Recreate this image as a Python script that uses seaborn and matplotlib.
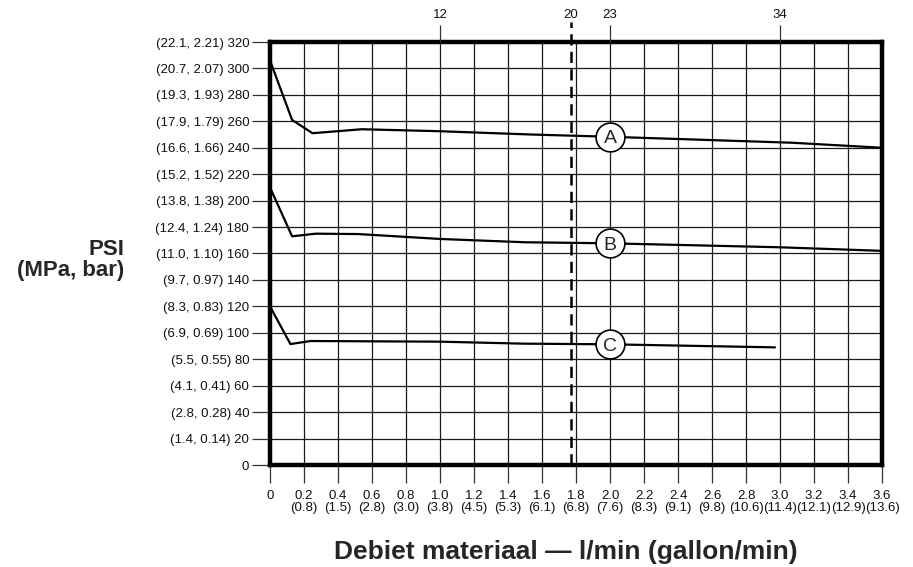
import matplotlib
matplotlib.use("Agg")
import matplotlib.pyplot as plt
import seaborn as sns
import pandas as pd
import numpy as np

sns.set_style("white")
plt.rcParams['font.family'] = ['Liberation Sans', 'DejaVu Sans']

# Flow (l/min) vs pressure (PSI) curves
curve_a_x = [0, 0.13, 0.25, 0.54, 1.0, 1.54, 2.0, 3.07, 3.6]
curve_a_y = [306, 261, 251, 254, 252.5, 250, 248.3, 243.8, 240]
curve_b_x = [0, 0.13, 0.27, 0.52, 1.0, 1.5, 2.0, 3.0, 3.6]
curve_b_y = [210, 173, 175, 174.7, 171, 168.5, 167.7, 164.7, 162]
curve_c_x = [0, 0.12, 0.24, 1.0, 1.49, 2.0, 2.97]
curve_c_y = [120, 91.5, 93.8, 93.3, 91.8, 91.3, 89]
curve_names = ["A", "B", "C"]
label_x = 2.0

# Axis ticks
x_ticks = [0, 0.2, 0.4, 0.6, 0.8, 1.0, 1.2, 1.4, 1.6, 1.8, 2.0, 2.2, 2.4, 2.6,
           2.8, 3.0, 3.2, 3.4, 3.6]
x_gallon = ["", "0.8", "1.5", "2.8", "3.0", "3.8", "4.5", "5.3", "6.1", "6.8",
            "7.6", "8.3", "9.1", "9.8", "10.6", "11.4", "12.1", "12.9", "13.6"]
y_ticks = [0, 20, 40, 60, 80, 100, 120, 140, 160, 180, 200, 220, 240, 260,
           280, 300, 320]
y_mpa = ["", "1.4", "2.8", "4.1", "5.5", "6.9", "8.3", "9.7", "11.0", "12.4",
         "13.8", "15.2", "16.6", "17.9", "19.3", "20.7", "22.1"]
y_bar = ["", "0.14", "0.28", "0.41", "0.55", "0.69", "0.83", "0.97", "1.10",
         "1.24", "1.38", "1.52", "1.66", "1.79", "1.93", "2.07", "2.21"]
top_ticks = [1.0, 1.77, 2.0, 3.0]
top_labels = ["12", "20", "23", "34"]
dashed_x = 1.77

df = pd.concat([
    pd.DataFrame({"flow": curve_a_x, "psi": curve_a_y, "curve": "A"}),
    pd.DataFrame({"flow": curve_b_x, "psi": curve_b_y, "curve": "B"}),
    pd.DataFrame({"flow": curve_c_x, "psi": curve_c_y, "curve": "C"}),
])

fig = plt.figure(figsize=(9.13, 5.67), dpi=100)
ax = fig.add_axes([270 / 913, 1 - 465 / 567, 612 / 913, 423 / 567])

ax.set_xlim(0, 3.6)
ax.set_ylim(0, 320)

# grid
for xv in x_ticks:
    ax.axvline(xv, color="#1a1a1a", lw=0.9, zorder=1)
for yv in y_ticks:
    ax.axhline(yv, color="#1a1a1a", lw=0.9, zorder=1)

sns.lineplot(data=df, x="flow", y="psi", units="curve", estimator=None,
             color="black", lw=1.6, ax=ax, zorder=3, sort=False)

# dashed reference line (extends above the frame)
ax.plot([dashed_x, dashed_x], [0, 335], color="black", lw=1.8,
        dashes=(4.5, 2.5), clip_on=False, zorder=4)

# circled curve labels
for name, xs, ys in zip(curve_names, [curve_a_x, curve_b_x, curve_c_x],
                        [curve_a_y, curve_b_y, curve_c_y]):
    yv = float(np.interp(label_x, xs, ys))
    ax.scatter([label_x], [yv], s=430, facecolor="white", edgecolor="black",
               linewidth=1.2, zorder=5)
    ax.text(label_x, yv, name, ha="center", va="center_baseline",
            fontsize=14, zorder=6)

# ticks
ax.set_xticks(x_ticks)
ax.set_xticklabels([("0" if i == 0 else f"{v:.1f}\n({g})")
                    for i, (v, g) in enumerate(zip(x_ticks, x_gallon))],
                   fontsize=9.5, linespacing=0.95)
ax.set_yticks(y_ticks)
ax.set_yticklabels([("0" if v == 0 else f"({m}, {b}) {v}")
                    for v, m, b in zip(y_ticks, y_mpa, y_bar)], fontsize=9.5)
ax.tick_params(axis="both", which="both", bottom=True, left=True,
               length=13, width=0.9, color="#333333", labelcolor="#111111",
               direction="out")
ax.tick_params(axis="x", pad=5)
ax.tick_params(axis="y", pad=2)
ax.set_xlabel("")
ax.set_ylabel("")

for sp in ax.spines.values():
    sp.set_visible(True)
    sp.set_linewidth(3.2)
    sp.set_color("black")
    sp.set_zorder(7)

top = ax.twiny()
top.set_xlim(ax.get_xlim())
top.set_xticks(top_ticks)
top.set_xticklabels(top_labels, fontsize=9.5)
top.tick_params(axis="x", top=True, length=12, width=0.9, color="#333333",
                labelcolor="#111111", pad=3)
for sp in top.spines.values():
    sp.set_visible(False)
top.xaxis.get_major_ticks()[1].tick2line.set_visible(False)

fig.text(124 / 913, 1 - 260 / 567, "PSI\n(MPa, bar)", ha="right",
         va="center", multialignment="right", fontsize=16,
         fontweight="bold", linespacing=1.0)
fig.text(566 / 913, 1 - 552 / 567, "Debiet materiaal — l/min (gallon/min)",
         ha="center", va="center", fontsize=19, fontweight="bold")

fig.savefig("out.png", dpi=100)
